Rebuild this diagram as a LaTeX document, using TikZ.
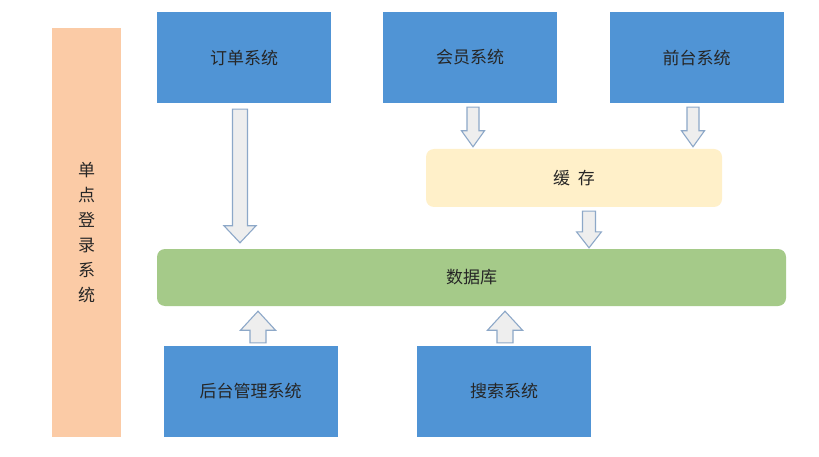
\documentclass[tikz,border=0pt]{standalone}
\usepackage{fontspec}
\newfontfamily\cjk{Noto Sans CJK SC}
\usetikzlibrary{calc}

\definecolor{sysblue}{HTML}{5094D5}
\definecolor{ssopeach}{HTML}{FBCBA6}
\definecolor{cacheyellow}{HTML}{FFF0C9}
\definecolor{dbgreen}{HTML}{A5CA89}
\definecolor{arrowfill}{HTML}{EEEEEE}
\definecolor{arrowedge}{HTML}{8DA8C8}
\definecolor{textgray}{HTML}{262626}

\tikzset{
  sysbox/.style={fill=sysblue, minimum width=174pt, minimum height=91pt, inner sep=0pt,
    font=\cjk\fontsize{17}{20}\selectfont, text=textgray},
  ssobar/.style={fill=ssopeach, minimum width=69pt, minimum height=409pt, inner sep=0pt,
    align=center, font=\cjk\fontsize{17}{25}\selectfont, text=textgray},
  cachebox/.style={fill=cacheyellow, rounded corners=8pt, minimum width=296pt, minimum height=58pt,
    inner sep=0pt, font=\cjk\fontsize{17}{20}\selectfont, text=textgray},
  dbbox/.style={fill=dbgreen, rounded corners=8pt, minimum width=629pt, minimum height=57pt,
    inner sep=0pt, font=\cjk\fontsize{17}{20}\selectfont, text=textgray},
  % block arrow: half shaft width, half head width, head length
  fatarrow/.style n args={3}{draw=arrowedge, fill=arrowfill, line width=1.1pt, line join=miter,
    to path={let \p1=(\tikztostart), \p2=(\tikztotarget), \n1={sign(\y2-\y1)} in
      ({\x1-#1pt},\y1) -- ({\x1-#1pt},{\y2-(\n1)*#3pt}) -- ({\x1-#2pt},{\y2-(\n1)*#3pt})
      -- (\x1,\y2) -- ({\x1+#2pt},{\y2-(\n1)*#3pt}) -- ({\x1+#1pt},{\y2-(\n1)*#3pt})
      -- ({\x1+#1pt},\y1) -- cycle}}
}

\begin{document}
\begin{tikzpicture}[x=1pt,y=-1pt]
\fill[white] (0,0) rectangle (819,457);
\useasboundingbox (0,0) rectangle (819,457);

% systems
\node[ssobar] (sso) at (86.5,232.5) {单\\点\\登\\录\\系\\统};
\node[sysbox] (order) at (244,57.5) {订单系统};
\node[sysbox] (member) at (470,57.5) {会员系统};
\node[sysbox] (front) at (696.5,57.5) {前台系统};
\node[cachebox] (cache) at (574,178) {缓\hspace{0.45em}存};
\node[dbbox] (db) at (471.5,277.5) {数据库};
\node[sysbox] (admin) at (250.5,391.5) {后台管理系统};
\node[sysbox] (search) at (504,391.5) {搜索系统};

% arrows
\draw[fatarrow={7.5}{16}{17}] ($(order.south)+(-4,6)$) to ($(db.north)+(0,-6)$);
\draw[fatarrow={6}{11.5}{16}] ($(member.south)+(3,4)$) to ($(cache.north)+(0,-2)$);
\draw[fatarrow={6}{11.5}{16}] ($(front.south)+(-3.5,4)$) to ($(cache.north)+(0,-2)$);
\draw[fatarrow={6.5}{12.5}{16}] ($(cache.south)+(15,4)$) to ($(db.north)+(0,-1)$);
\draw[fatarrow={8}{17.5}{19}] ($(admin.north)+(7.5,-3)$) to ($(db.south)+(0,5)$);
\draw[fatarrow={8}{17.5}{19}] ($(search.north)+(1,-3)$) to ($(db.south)+(0,5)$);
\end{tikzpicture}
\end{document}
